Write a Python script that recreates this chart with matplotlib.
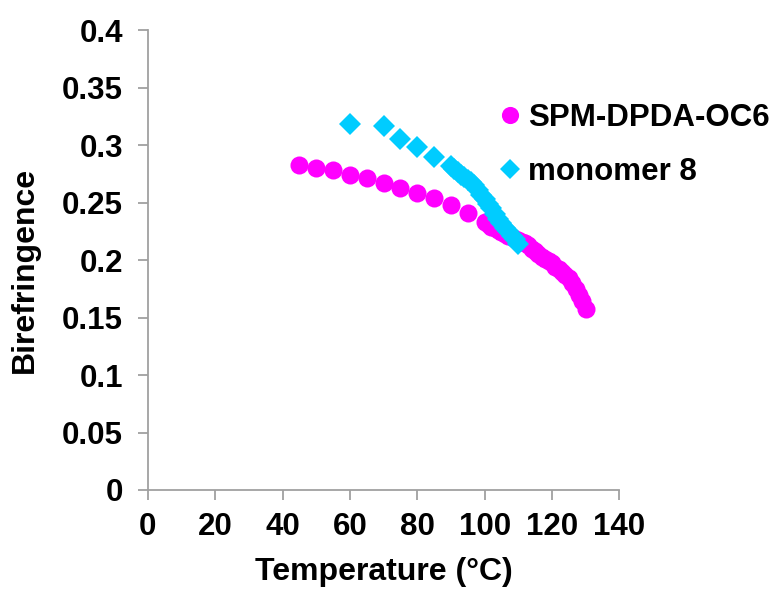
import matplotlib
matplotlib.use("Agg")
from matplotlib import pyplot as plt

# SPM-DPDA-OC6 (magenta circles)
spm_temp = [45, 50, 55, 60, 65, 70, 75, 80, 85, 90, 95, 100,
            101, 102, 103, 104, 105, 106, 107, 108, 109, 110,
            111, 112, 113, 114, 115, 116, 117, 118, 119, 120,
            121, 122, 123, 124, 125, 126, 127, 128, 129, 130]
spm_biref = [0.283, 0.280, 0.278, 0.274, 0.271, 0.267, 0.263, 0.258, 0.254, 0.248, 0.241, 0.233,
             0.231, 0.229, 0.228, 0.226, 0.224, 0.223, 0.221, 0.220, 0.218, 0.217,
             0.216, 0.215, 0.213, 0.210, 0.208, 0.205, 0.203, 0.201, 0.199, 0.197,
             0.194, 0.192, 0.190, 0.187, 0.184, 0.180, 0.175, 0.170, 0.164, 0.157]

# monomer 8 (cyan diamonds)
mono_temp = [60, 70, 75, 80, 85, 90, 91, 92, 93, 94, 95, 96, 97, 98, 99, 100,
             101, 102, 103, 104, 105, 106, 107, 108, 109, 110]
mono_biref = [0.318, 0.317, 0.305, 0.298, 0.290, 0.282, 0.279, 0.277, 0.274, 0.272, 0.270, 0.268,
              0.265, 0.261, 0.257, 0.253, 0.249, 0.245, 0.240, 0.236, 0.232, 0.228,
              0.225, 0.221, 0.218, 0.214]

x_ticks = [0, 20, 40, 60, 80, 100, 120, 140]
y_ticks = [0, 0.05, 0.1, 0.15, 0.2, 0.25, 0.3, 0.35, 0.4]
y_tick_labels = ["0", "0.05", "0.1", "0.15", "0.2", "0.25", "0.3", "0.35", "0.4"]

plt.rcParams["font.family"] = "Liberation Sans"
plt.rcParams["font.weight"] = "bold"

fig = plt.figure(figsize=(7.78, 5.90), dpi=100)
ax = fig.add_axes([0.190, 0.1695, 0.606, 0.7795])

ax.plot(spm_temp, spm_biref, "o", color="#FF00FF", markersize=13,
        markeredgewidth=0, label="SPM-DPDA-OC6")
ax.plot(mono_temp, mono_biref, "D", color="#00CCFF", markersize=11,
        markeredgewidth=0, label="monomer 8")

ax.set_xlim(0, 140)
ax.set_ylim(0, 0.4)
ax.set_xticks(x_ticks)
ax.set_yticks(y_ticks)
ax.set_yticklabels(y_tick_labels)

for side in ["top", "right"]:
    ax.spines[side].set_visible(False)
for side in ["left", "bottom"]:
    ax.spines[side].set_color("#A0A0A0")
    ax.spines[side].set_linewidth(1.3)
ax.tick_params(direction="out", length=7, width=1.3, color="#A0A0A0",
               labelsize=22.5)
ax.tick_params(axis="x", pad=9)
ax.tick_params(axis="y", pad=11)

ax.set_xlabel("Temperature (°C)", fontsize=23, fontweight="bold")
ax.set_ylabel("Birefringence", fontsize=23, fontweight="bold")
ax.xaxis.set_label_coords(0.501, -0.178)
ax.yaxis.set_label_coords(-0.261, 0.478)
ax.xaxis.label.set_va("center")
ax.yaxis.label.set_va("center")

fig.legend(loc="upper left", bbox_to_anchor=(0.627, 0.847), frameon=False,
           fontsize=22.5, markerscale=0.95, handlelength=0.6, handletextpad=0.3,
           labelspacing=0.77, borderaxespad=0)

fig.savefig("out.png", dpi=100)
